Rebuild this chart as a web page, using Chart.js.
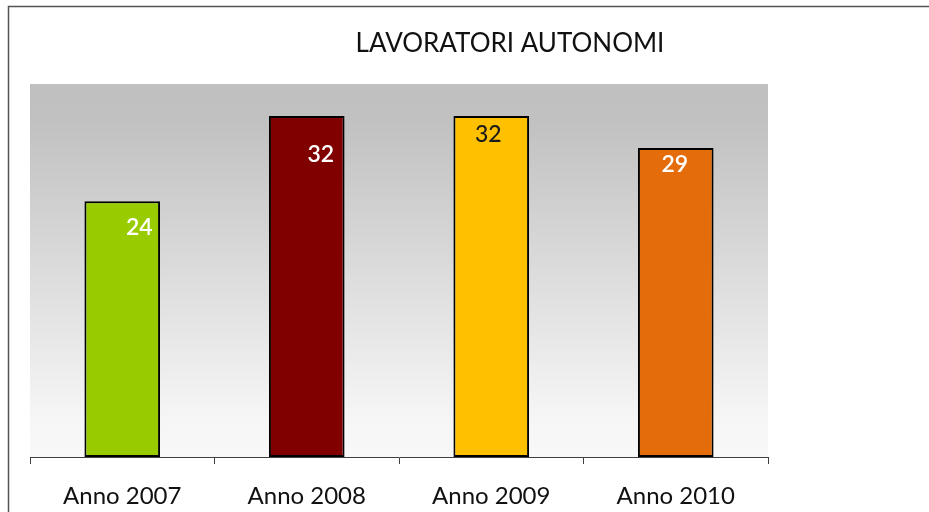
<!DOCTYPE html>
<html>
<head>
<meta charset="utf-8">
<script src="https://cdn.jsdelivr.net/npm/chart.js@4.4.0/dist/chart.umd.min.js"></script>
<style>
html,body{margin:0;padding:0;background:#fff;}
#wrap{width:929px;height:512px;position:relative;}
</style>
</head>
<body>
<div id="wrap"><canvas id="c" width="929" height="512"></canvas></div>
<script>
const categories = ["Anno 2007", "Anno 2008", "Anno 2009", "Anno 2010"];
const values = [24, 32, 32, 29];
const barColors = ["#99cc00", "#800000", "#ffc000", "#e46c0a"];
const labelColors = ["#ffffff", "#ffffff", "#1a1a1a", "#ffffff"];
const labelOffsets = [[17, 26], [14, 39], [-3, 19], [-1, 17]];
const titleText = "LAVORATORI AUTONOMI";
const FONT = "Lato, 'Open Sans', sans-serif";

const framePlugin = {
  id: 'frame',
  beforeDraw(chart) {
    const ctx = chart.ctx, a = chart.chartArea;
    ctx.save();
    ctx.fillStyle = '#ffffff';
    ctx.fillRect(0, 0, chart.width, chart.height);
    ctx.strokeStyle = '#555555';
    ctx.lineWidth = 1.5;
    ctx.strokeRect(8.5, 6.5, 1200, 1200);
    const g = ctx.createLinearGradient(0, a.top, 0, a.bottom);
    g.addColorStop(0, '#c0c0c0');
    g.addColorStop(0.1, '#c1c1c1');
    g.addColorStop(0.9, '#f6f6f6');
    g.addColorStop(1, '#f8f8f8');
    ctx.fillStyle = g;
    ctx.fillRect(a.left, a.top, a.right - a.left, a.bottom - a.top);
    ctx.fillStyle = '#111';
    ctx.font = "26px " + FONT;
    ctx.textAlign = 'center';
    ctx.textBaseline = 'middle';
    ctx.fillText(titleText, 510, 44);
    ctx.restore();
  },
  afterDatasetsDraw(chart) {
    const ctx = chart.ctx;
    const meta = chart.getDatasetMeta(0);
    ctx.save();
    ctx.textAlign = 'center';
    ctx.textBaseline = 'middle';
    meta.data.forEach((bar, i) => {
      ctx.font = (i === 2 ? "500 " : "600 ") + "23px " + FONT;
      ctx.fillStyle = labelColors[i];
      ctx.fillText(String(values[i]), bar.x + labelOffsets[i][0], bar.y + labelOffsets[i][1]);
    });
    ctx.restore();
  }
};

new Chart(document.getElementById('c'), {
  type: 'bar',
  data: {
    labels: categories,
    datasets: [{
      data: values,
      backgroundColor: barColors,
      borderColor: '#000000',
      borderWidth: 2,
      borderSkipped: false,
      categoryPercentage: 1,
      barPercentage: 0.41
    }]
  },
  options: {
    responsive: false,
    animation: false,
    events: [],
    layout: { padding: { left: 30, right: 161, top: 84, bottom: 2 } },
    plugins: { legend: { display: false }, tooltip: { enabled: false }, title: { display: false } },
    scales: {
      y: { display: false, min: 0, max: 35 },
      x: {
        afterFit(scale) { scale.height = 53; },
        grid: { drawOnChartArea: false, drawTicks: true, tickLength: 7, color: '#404040', offset: true },
        border: { display: true, color: '#404040', width: 1 },
        ticks: { color: '#111', font: { family: FONT, size: 24 }, padding: 18 }
      }
    }
  },
  plugins: [framePlugin]
});
</script>
</body>
</html>
